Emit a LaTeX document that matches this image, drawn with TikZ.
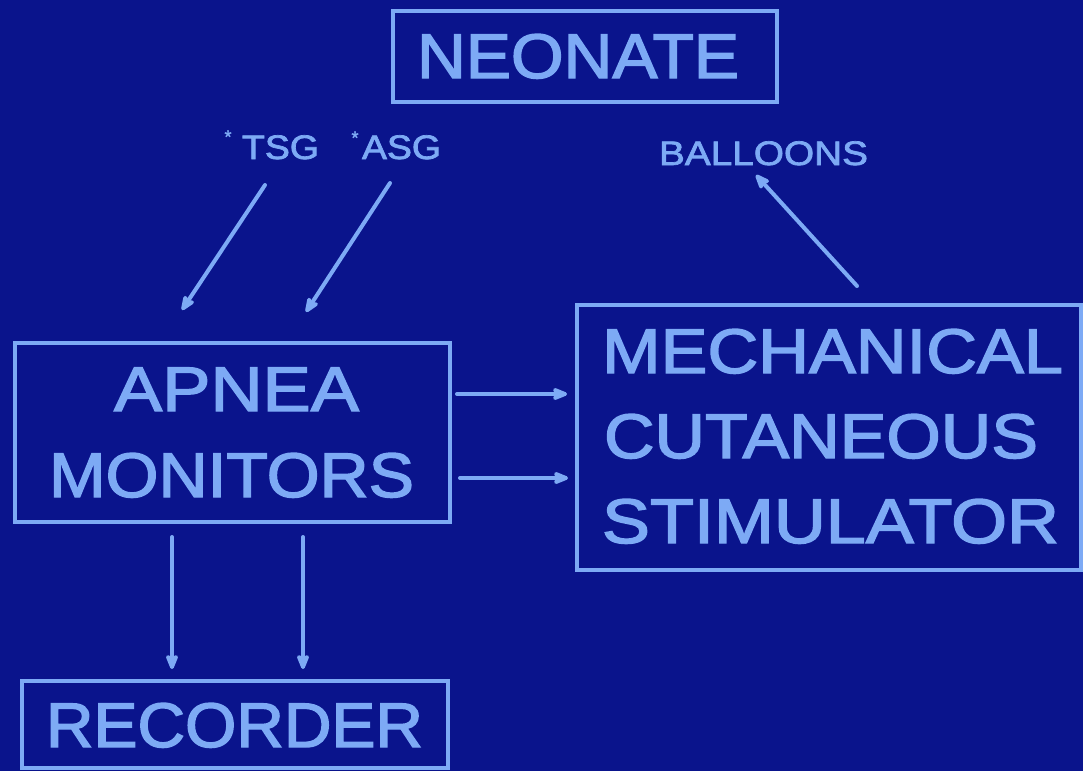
\documentclass[tikz,border=0pt]{standalone}
\usepackage{fontspec}
\usepackage{graphicx}
\setmainfont[FakeBold=2.2]{Liberation Sans}
\newfontfamily\smallfont[FakeBold=2]{Liberation Sans}
\usetikzlibrary{arrows.meta}
\definecolor{bgblue}{RGB}{10,20,140}
\definecolor{fgblue}{RGB}{125,170,245}
\newcommand{\fitwd}[2]{\resizebox{#1pt}{\height}{#2}}
\begin{document}
\begin{tikzpicture}[x=1pt,y=-1pt,
  box/.style={draw=fgblue, line width=3.6pt, inner sep=0pt},
  bigtxt/.style={text=fgblue, anchor=base, inner sep=0pt, font=\fontsize{63}{75}\selectfont},
  smalltxt/.style={text=fgblue, anchor=base, inner sep=0pt, font=\smallfont\fontsize{34}{40}\selectfont},
  startxt/.style={text=fgblue, anchor=base, inner sep=0pt, font=\smallfont\fontsize{18}{18}\selectfont},
  arr/.style={draw=fgblue, line width=4pt, line cap=round, -{Stealth[length=19pt,width=15pt,inset=4pt,round]}}
]
\useasboundingbox (0,0) rectangle (1083,771);
\fill[bgblue] (0,0) rectangle (1083,771);

% boxes
\node[box, minimum width=384, minimum height=91] (neonate) at (585,56.5) {};
\node[box, minimum width=435, minimum height=179] (apnea) at (232.5,432.5) {};
\node[box, minimum width=504, minimum height=265] (mech) at (829,437.5) {};
\node[box, minimum width=426, minimum height=87] (recorder) at (235,724.5) {};

% box texts
\node[bigtxt] (neonatetxt) at (578,78) {\fitwd{322}{NEONATE}};
\node[bigtxt] (apnea1) at (236.5,411) {\fitwd{245}{APNEA}};
\node[bigtxt] (apnea2) at (231.5,497) {\fitwd{365}{MONITORS}};
\node[bigtxt] (mech1) at (832.5,373) {\fitwd{461}{MECHANICAL}};
\node[bigtxt] (mech2) at (821,458) {\fitwd{434}{CUTANEOUS}};
\node[bigtxt] (mech3) at (830.5,543) {\fitwd{457}{STIMULATOR}};
\node[bigtxt] (recordertxt) at (234.5,747) {\fitwd{377}{RECORDER}};

% labels
\node[smalltxt] (tsg) at (280.5,159) {\fitwd{77}{TSG}};
\node[smalltxt] (asg) at (401.5,159) {\fitwd{79}{ASG}};
\node[startxt] (tsgstar) at (228,143) {*};
\node[startxt] (asgstar) at (355,144) {*};
\node[smalltxt] (balloons) at (763.5,165) {\fitwd{209}{BALLOONS}};

% arrow end points
\coordinate (tsgA) at (265,185);
\coordinate (tsgB) at (182,310);
\coordinate (asgA) at (390,183);
\coordinate (asgB) at (306,312);
\coordinate (balA) at (857,286);
\coordinate (balB) at (756,175);
\coordinate (h1A) at (457,394);
\coordinate (h1B) at (567,394);
\coordinate (h2A) at (460,478);
\coordinate (h2B) at (568,478);
\coordinate (v1A) at (172,537);
\coordinate (v1B) at (172,669);
\coordinate (v2A) at (303,537);
\coordinate (v2B) at (303,669);

\draw[arr] (tsgA) -- (tsgB);
\draw[arr] (asgA) -- (asgB);
\draw[arr] (balA) -- (balB);
\draw[arr] (h1A) -- (h1B);
\draw[arr] (h2A) -- (h2B);
\draw[arr] (v1A) -- (v1B);
\draw[arr] (v2A) -- (v2B);
\end{tikzpicture}
\end{document}
